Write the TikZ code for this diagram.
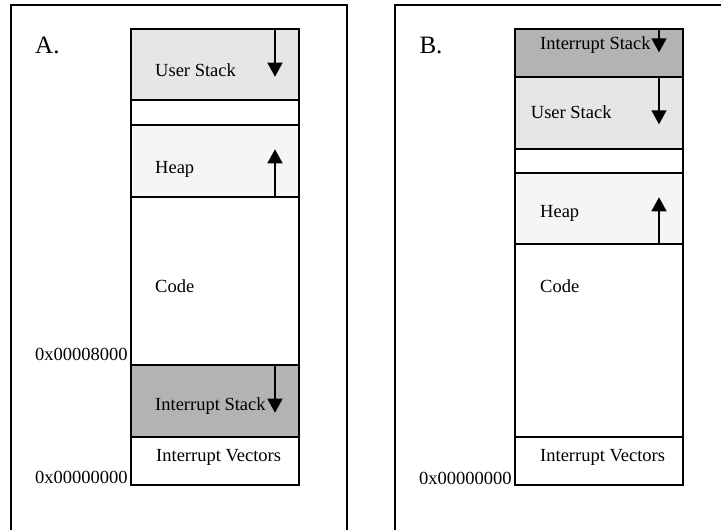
\documentclass[tikz,border=0pt]{standalone}
\usepackage{fontspec}
\setmainfont{Liberation Serif}
\usetikzlibrary{arrows.meta}

\definecolor{userstack}{HTML}{E6E6E6}
\definecolor{heapfill}{HTML}{F5F5F5}
\definecolor{irqstack}{HTML}{B3B3B3}

\tikzset{
  seg/.style={draw, line width=2.2pt, inner sep=0pt, outer sep=0pt,
              anchor=north west, minimum width=#1},
  seg/.default=168pt,
  lbl/.style={anchor=base west, inner sep=0pt, font=\fontsize{18.5}{20}\selectfont},
  addr/.style={anchor=base east, inner sep=0pt, font=\fontsize{18.5}{20}\selectfont},
  paneltitle/.style={anchor=base west, inner sep=0pt, font=\fontsize{25}{27}\selectfont},
  growarrow/.style={-{Triangle[width=15pt,length=14pt]}, line width=1.4pt},
  panelframe/.style={line width=2.2pt}
}

\begin{document}
\begin{tikzpicture}[x=1pt, y=-1pt]
  \clip (0,0) rectangle (721,530);
  \fill[white] (0,0) rectangle (721,530);

  % outer panels
  \draw[panelframe] (11,5) rectangle (346.7,545);
  \draw[panelframe] (740,5) -- (395,5) -- (395,545);

  % ---------- layout A ----------
  \node[seg, fill=userstack, minimum height=70.7pt] (usA)   at (130.7,29.3)  {};
  \node[seg, minimum height=25pt]                   (gapA)  at (130.7,100)   {};
  \node[seg, fill=heapfill, minimum height=71.7pt]  (heapA) at (130.7,125)   {};
  \node[seg, minimum height=168pt]                  (codeA) at (130.7,196.7) {};
  \node[seg, fill=irqstack, minimum height=72pt]    (istA)  at (130.7,364.7) {};
  \node[seg, minimum height=48.3pt]                 (ivA)   at (130.7,436.7) {};

  \coordinate (usAtip)   at (275,76.7);
  \coordinate (heapAtip) at (275,149.3);
  \coordinate (istAtip)  at (275,412.7);
  \draw[growarrow] (usA.north -| usAtip) -- (usAtip);
  \draw[growarrow] (heapA.south -| heapAtip) -- (heapAtip);
  \draw[growarrow] (istA.north -| istAtip) -- (istAtip);

  \node[paneltitle] (tA) at (35,53.3)   {A.};
  \node[lbl]   (lusA)  at (155,76.7)  {User Stack};
  \node[lbl]   (lhpA)  at (155,173.3) {Heap};
  \node[lbl]   (lcdA)  at (155,292.7) {Code};
  \node[lbl]   (listA) at (155,410)   {Interrupt Stack};
  \node[lbl]   (livA)  at (156,461)   {Interrupt Vectors};
  \node[addr]  (a8000) at (127.7,360.7) {0x00008000};
  \node[addr]  (a0A)   at (127.7,483.3) {0x00000000};

  % ---------- layout B ----------
  \node[seg=167.7pt, fill=irqstack, minimum height=47.4pt]  (istB)  at (515,29.3)  {};
  \node[seg=167.7pt, fill=userstack, minimum height=72.3pt] (usB)   at (515,76.7)  {};
  \node[seg=167.7pt, minimum height=24pt]                   (gapB)  at (515,149)   {};
  \node[seg=167.7pt, fill=heapfill, minimum height=71.3pt]  (heapB) at (515,173)   {};
  \node[seg=167.7pt, minimum height=193pt]                  (codeB) at (515,244.3) {};
  \node[seg=167.7pt, minimum height=47.7pt]                 (ivB)   at (515,437.3) {};

  \coordinate (istBtip)  at (659,52.3);
  \coordinate (usBtip)   at (659,124.3);
  \coordinate (heapBtip) at (659,197.3);
  \draw[growarrow] (istB.north -| istBtip) -- (istBtip);
  \draw[growarrow] (usB.north -| usBtip) -- (usBtip);
  \draw[growarrow] (heapB.south -| heapBtip) -- (heapBtip);

  \node[paneltitle] (tB) at (419.3,53.3) {B.};
  \node[lbl]   (listB) at (540,49.3)   {Interrupt Stack};
  \node[lbl]   (lusB)  at (530.7,118.3) {User Stack};
  \node[lbl]   (lhpB)  at (540,217.3)  {Heap};
  \node[lbl]   (lcdB)  at (540,292.7)  {Code};
  \node[lbl]   (livB)  at (540,461)    {Interrupt Vectors};
  \node[addr]  (a0B)   at (511.7,484)  {0x00000000};
\end{tikzpicture}
\end{document}
